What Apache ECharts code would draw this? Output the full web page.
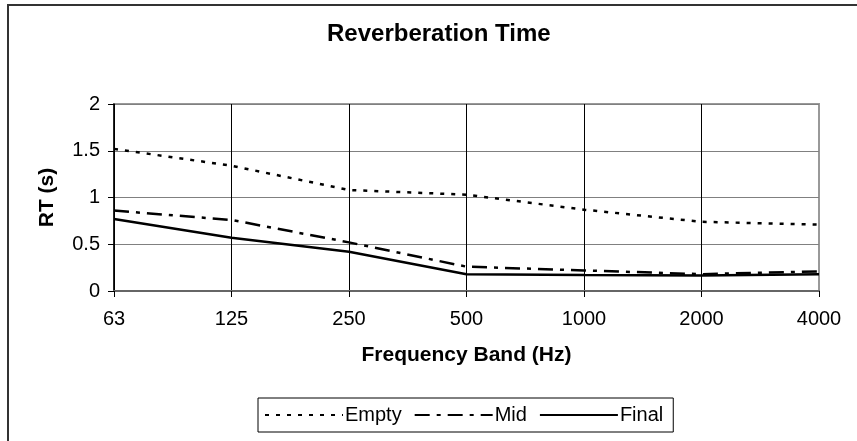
<!DOCTYPE html>
<html>
<head>
<meta charset="utf-8">
<script src="https://cdn.jsdelivr.net/npm/echarts@6/dist/echarts.min.js"></script>
<style>html,body{margin:0;padding:0;background:#fff}#c{width:857px;height:441px}</style>
</head>
<body>
<div id="c"></div>
<script>
const categories = ['63', '125', '250', '500', '1000', '2000', '4000'];
const emptyValues = [1.52, 1.34, 1.08, 1.03, 0.87, 0.74, 0.71];
const midValues = [0.86, 0.76, 0.52, 0.26, 0.22, 0.18, 0.21];
const finalValues = [0.77, 0.57, 0.42, 0.18, 0.17, 0.165, 0.18];
const yTicks = { min: 0, max: 2, interval: 0.5 };

const FONT = 'Liberation Sans, Arial, sans-serif';
const chart = echarts.init(document.getElementById('c'), null, { renderer: 'canvas' });
chart.setOption({
  animation: false,
  backgroundColor: '#fff',
  graphic: [{
    type: 'rect', silent: true, z: -10,
    shape: { x: 8, y: 5, width: 900, height: 500 },
    style: { fill: 'none', stroke: '#333', lineWidth: 2 }
  }],
  title: {
    text: 'Reverberation Time',
    left: 327, top: 22, padding: 0,
    textStyle: { fontFamily: FONT, fontSize: 24, fontWeight: 'bold', color: '#000' }
  },
  grid: {
    left: 114, right: 38, top: 104, bottom: 150,
    show: true, borderColor: '#999', borderWidth: 2, backgroundColor: 'transparent'
  },
  legend: {
    data: ['Empty', 'Mid', 'Final'],
    left: 258, top: 398,
    padding: [7, 10, 7, 6],
    itemGap: 12, itemWidth: 78, itemHeight: 12,
    borderColor: '#000', borderWidth: 1,
    itemStyle: { opacity: 0 },
    textStyle: { fontFamily: FONT, fontSize: 20, color: '#000', padding: [0, 0, 0, -3] }
  },
  xAxis: {
    type: 'category',
    data: categories,
    boundaryGap: false,
    name: 'Frequency Band (Hz)',
    nameLocation: 'middle',
    nameGap: 54,
    nameTextStyle: { fontFamily: FONT, fontSize: 21, fontWeight: 'bold', color: '#000' },
    axisLine: { lineStyle: { color: '#666', width: 2 } },
    axisTick: { show: true, length: 6, lineStyle: { color: '#000', width: 1 } },
    axisLabel: { fontFamily: FONT, fontSize: 20, color: '#000', margin: 18 },
    splitLine: {
      show: true,
      interval: function (index) { return index < categories.length - 1; },
      lineStyle: { color: '#000', width: 1 }
    }
  },
  yAxis: {
    type: 'value',
    min: yTicks.min, max: yTicks.max, interval: yTicks.interval,
    name: 'RT (s)',
    nameLocation: 'middle',
    nameGap: 56,
    nameTextStyle: { fontFamily: FONT, fontSize: 21, fontWeight: 'bold', color: '#000' },
    axisLine: { show: true, lineStyle: { color: '#000', width: 1.5 } },
    axisTick: { show: true, length: 6, lineStyle: { color: '#000', width: 1 } },
    axisLabel: { fontFamily: FONT, fontSize: 20, color: '#000', margin: 14 },
    splitLine: { show: true, lineStyle: { color: '#808080', width: 1 } }
  },
  series: [
    {
      name: 'Empty', type: 'line', data: emptyValues, symbol: 'none',
      lineStyle: { color: '#000', width: 2.5, type: [4, 7] },
      itemStyle: { color: '#000' }
    },
    {
      name: 'Mid', type: 'line', data: midValues, symbol: 'none',
      lineStyle: { color: '#000', width: 2.5, type: [15, 7, 4, 7] },
      itemStyle: { color: '#000' }
    },
    {
      name: 'Final', type: 'line', data: finalValues, symbol: 'none',
      lineStyle: { color: '#000', width: 2.5, type: 'solid' },
      itemStyle: { color: '#000' }
    }
  ]
});
</script>
</body>
</html>
